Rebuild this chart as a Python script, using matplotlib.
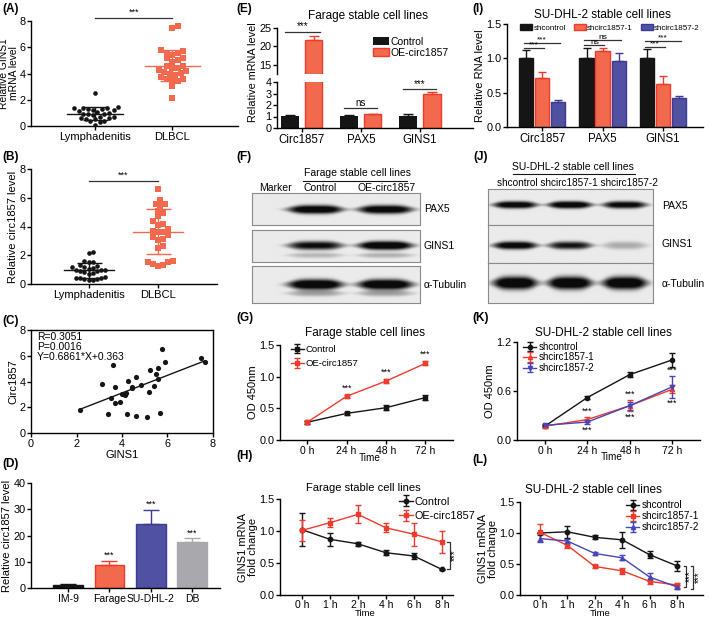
import numpy as np
import matplotlib.pyplot as plt
from matplotlib.lines import Line2D

plt.rcParams['font.family'] = ['Liberation Sans', 'DejaVu Sans']
plt.rcParams['font.size'] = 8
plt.rcParams['axes.linewidth'] = 1.0
plt.rcParams['xtick.major.size'] = 3
plt.rcParams['ytick.major.size'] = 3
plt.rcParams['xtick.major.pad'] = 1.2
plt.rcParams['ytick.major.pad'] = 1
plt.rcParams['xtick.labelsize'] = 7.8
plt.rcParams['ytick.labelsize'] = 7.8
plt.rcParams['legend.frameon'] = False

BLACK = '#151515'
RED = '#ee3b2b'
CORAL = '#f3694e'
BLUE = '#4646b8'
NAVY = '#5151a2'
GREY = '#a9a9ad'

# ---- data ----
ab_groups = ['Lymphadenitis', 'DLBCL']
a_lymph = [2.5, 1.45, 1.4, 1.35, 1.35, 1.3, 1.3, 1.25, 1.2, 1.15, 1.1, 1.0, 0.95,
           0.9, 0.9, 0.85, 0.7, 0.65, 0.6, 0.6, 0.55, 0.5, 0.4, 0.35, 0.3, 0.1]
a_dlbcl = [7.6, 7.5, 5.8, 5.7, 5.6, 5.55, 5.4, 5.2, 5.15, 5.0, 4.85, 4.6, 4.55, 4.45,
           4.4, 4.25, 4.2, 4.15, 4.05, 3.95, 3.9, 3.7, 3.6, 3.55, 3.5, 3.4, 3.05, 2.15]
b_lymph = [2.2, 2.15, 1.6, 1.55, 1.5, 1.3, 1.25, 1.2, 1.15, 1.1, 1.05, 1.0, 1.0, 0.95,
           0.9, 0.9, 0.85, 0.75, 0.7, 0.5, 0.45, 0.4, 0.4, 0.35, 0.35, 0.3, 0.3]
b_dlbcl = [6.6, 5.85, 5.6, 5.6, 5.45, 5.1, 4.95, 4.7, 4.4, 4.2, 4.1, 3.8, 3.7, 3.65,
           3.6, 3.4, 3.25, 3.15, 3.05, 2.65, 2.5, 1.6, 1.55, 1.5, 1.4, 1.3, 1.25]
c_gins1 = [2.15, 3.1, 3.5, 3.39, 3.61, 3.7, 3.68, 3.9, 3.99, 4.12, 4.17, 4.27, 4.24, 4.42,
           4.46, 4.6, 4.6, 4.85, 5.1, 5.19, 5.22, 5.39, 5.51, 5.57, 5.6, 5.69, 5.77, 5.9,
           7.48, 7.63]
c_circ = [1.77, 3.84, 2.68, 1.5, 5.32, 3.58, 2.36, 2.42, 3.06, 2.99, 3.12, 4.05, 1.5, 3.5,
          3.58, 4.36, 1.32, 3.71, 1.25, 3.19, 4.88, 3.64, 4.62, 4.16, 5.01, 1.58, 6.52, 5.53,
          5.79, 5.51]
c_slope, c_icpt = 0.6861, 0.363

d_lines = ['IM-9', 'Farage', 'SU-DHL-2', 'DB']
d_mean = [1.2, 8.7, 24.2, 17.4]
d_err = [0.3, 1.6, 5.6, 1.6]

genes = ['Circ1857', 'PAX5', 'GINS1']
e_ctrl = [1.05, 1.05, 1.05]
e_ctrl_err = [0.1, 0.1, 0.15]
e_oe = [21.7, 1.2, 3.0]
e_oe_err = [1.1, 0.05, 0.1]

i_ctrl = [1.0, 1.0, 1.0]
i_ctrl_err = [0.12, 0.15, 0.13]
i_sh1 = [0.71, 1.10, 0.62]
i_sh1_err = [0.09, 0.05, 0.12]
i_sh2 = [0.37, 0.96, 0.42]
i_sh2_err = [0.03, 0.12, 0.03]

gk_times = ['0 h', '24 h', '48 h', '72 h']
g_ctrl = [0.28, 0.42, 0.51, 0.67]
g_ctrl_err = [0.02, 0.02, 0.04, 0.04]
g_oe = [0.28, 0.69, 0.93, 1.21]
g_oe_err = [0.02, 0.02, 0.03, 0.03]
k_ctrl = [0.17, 0.52, 0.80, 0.98]
k_ctrl_err = [0.01, 0.02, 0.03, 0.08]
k_sh1 = [0.17, 0.25, 0.42, 0.62]
k_sh1_err = [0.02, 0.03, 0.07, 0.05]
k_sh2 = [0.18, 0.22, 0.42, 0.65]
k_sh2_err = [0.01, 0.03, 0.05, 0.13]

hl_times = ['0 h', '1 h', '2 h', '4 h', '6 h', '8 h']
h_ctrl = [1.02, 0.87, 0.80, 0.66, 0.61, 0.40]
h_ctrl_err = [0.26, 0.10, 0.03, 0.04, 0.04, 0.01]
h_oe = [1.01, 1.13, 1.26, 1.05, 0.95, 0.83]
h_oe_err = [0.16, 0.07, 0.14, 0.07, 0.18, 0.17]
l_ctrl = [1.0, 1.02, 0.93, 0.89, 0.65, 0.47]
l_ctrl_err = [0.0, 0.10, 0.03, 0.13, 0.06, 0.08]
l_sh1 = [1.01, 0.80, 0.46, 0.39, 0.22, 0.16]
l_sh1_err = [0.14, 0.04, 0.02, 0.05, 0.04, 0.04]
l_sh2 = [0.91, 0.87, 0.67, 0.60, 0.29, 0.13]
l_sh2_err = [0.05, 0.04, 0.03, 0.04, 0.06, 0.03]

# western blot band strengths (0 = no band)
f_lanes = ['Marker', 'Control', 'OE-circ1857']
f_pax5 = [0, 0.95, 0.92]
f_gins1 = [0, 0.8, 1.0]
f_gins1_low = [0, 0.18, 0.2]
f_tub = [0, 1.0, 1.0]
f_tub_low = [0, 0.25, 0.25]
j_lanes = ['shcontrol', 'shcirc1857-1', 'shcirc1857-2']
j_pax5 = [0.9, 0.95, 0.85]
j_gins1 = [0.9, 0.75, 0.22]
j_tub = [1.0, 1.0, 1.0]

# ---- layout helpers ----
W, H = 709, 618
fig = plt.figure(figsize=(W / 100, H / 100), dpi=100)


def axes_px(l, t, r, b):
    return fig.add_axes([l / W, 1 - b / H, (r - l) / W, (b - t) / H])


def ftext(x, y, s, **kw):
    kw.setdefault('ha', 'center')
    kw.setdefault('va', 'center')
    return fig.text(x / W, 1 - y / H, s, **kw)


def fline(x0, x1, y, **kw):
    fig.add_artist(Line2D([x0 / W, x1 / W], [1 - y / H, 1 - y / H], color=BLACK, lw=0.8, **kw))


def prism(ax):
    ax.spines[['top', 'right']].set_visible(False)
    ax.tick_params(direction='out', width=1)


def ylab(ax, s, fs=8, pad=1.0):
    ax.set_ylabel(s, fontsize=fs, labelpad=pad, linespacing=0.95)


def swarm(values, xscale, yscale, d):
    # deterministic beeswarm offsets (pixels -> data units)
    v = np.asarray(values)
    out = np.zeros(len(v))
    placed = []
    cands = [0.0] + [s * j * d * 0.5 for j in range(1, 60) for s in (1, -1)]
    for i in np.argsort(v):
        y = v[i] * yscale
        for c in cands:
            if all((c - px) ** 2 + (y - py) ** 2 >= d * d for px, py in placed):
                break
        placed.append((c, y))
        out[i] = c / xscale
    return out


def sig(ax, x0, x1, y, s, dy, fs=7):
    ax.plot([x0, x1], [y, y], color='#333333', lw=0.9, clip_on=False)
    ax.text((x0 + x1) / 2, y + dy, s, ha='center', va='bottom', fontsize=fs, clip_on=False)


def bracket(ax, x, y0, y1, s, dx):
    w = 0.08
    ax.plot([x - w, x, x, x - w], [y0, y0, y1, y1], color='#333333', lw=0.9, clip_on=False)
    ax.text(x + dx, (y0 + y1) / 2, s, rotation=90, ha='center', va='center', fontsize=7,
            clip_on=False)


# ---- panel labels ----
for lab, x, y in [('(A)', 2, 9), ('(B)', 2, 157), ('(C)', 2, 321), ('(D)', 2, 464),
                  ('(E)', 236, 9), ('(F)', 236, 157), ('(G)', 236, 318), ('(H)', 236, 456),
                  ('(I)', 472, 9), ('(J)', 473, 157), ('(K)', 472, 318), ('(L)', 472, 460)]:
    ftext(x, y, lab, ha='left', fontsize=8.5, fontweight='bold')


# ---- A / B dot plots ----
def dotplot(box, lymph, dlbcl, xpos, yscale, sig_y):
    ax = axes_px(*box)
    prism(ax)
    for i, (vals, mk, col, sz, d) in enumerate([(lymph, 'o', BLACK, 11, 4.6),
                                                (dlbcl, 's', CORAL, 14, 5.4)]):
        v = np.array(vals)
        ax.scatter(i + swarm(v, xpos, yscale, d), v, marker=mk, s=sz, color=col, lw=0,
                   zorder=3)
        m, sd = v.mean(), v.std(ddof=1)
        ax.plot([i - 0.36, i + 0.36], [m, m], color=col, lw=1, zorder=4)
        ax.errorbar(i, m, yerr=sd, color=col, capsize=9, lw=1, capthick=1, zorder=4)
    ax.set_xlim(-0.83, 1.85)
    ax.set_ylim(0, 8)
    ax.set_yticks([0, 2, 4, 6, 8])
    ax.set_xticks([0, 1], ab_groups, fontsize=8)
    sig(ax, 0, 1, sig_y, '***', 0.05, fs=6.5)
    return ax


ax = dotplot((31, 21, 238, 126), a_lymph, a_dlbcl, 76, 13.1, 8.25)
ylab(ax, 'Relative GINS1\nmRNA level', fs=7.4, pad=0.3)
ax = dotplot((31, 169, 217, 284), b_lymph, b_dlbcl, 76, 14.4, 7.2)
ylab(ax, 'Relative circ1857 level')

# ---- C correlation ----
ax = axes_px(31, 330, 213, 433)
ax.tick_params(direction='out', width=1)
ax.scatter(c_gins1, c_circ, s=14, color=BLACK, lw=0, zorder=3)
xl = np.array([min(c_gins1), max(c_gins1)])
ax.plot(xl, c_slope * xl + c_icpt, color=BLACK, lw=1)
ax.set_xlim(0, 8)
ax.set_ylim(0, 8)
ax.set_xticks([0, 2, 4, 6, 8])
ax.set_yticks([0, 2, 4, 6, 8])
ax.text(0.25, 7.85, 'R=0.3051\nP=0.0016\nY=0.6861*X+0.363', va='top', fontsize=7.5,
        linespacing=1.0)
ylab(ax, 'Circ1857')
ax.set_xlabel('GINS1', fontsize=8, labelpad=0.5)

# ---- D bars ----
ax = axes_px(31, 483, 220, 588)
prism(ax)
d_fill = [BLACK, CORAL, NAVY, GREY]
d_edge = [BLACK, RED, '#3b3b94', GREY]
xd = np.arange(len(d_lines))
ax.bar(xd, d_mean, width=0.72, color=d_fill, edgecolor=d_edge, lw=1)
for i in xd:
    ax.errorbar(i, d_mean[i], yerr=[[0], [d_err[i]]], color=d_edge[i], capsize=6, lw=1,
                capthick=1)
    if i > 0:
        ax.text(i, d_mean[i] + d_err[i] + 0.3, '***', ha='center', va='bottom', fontsize=6.5)
ax.set_xlim(-0.9, 3.68)
ax.set_ylim(0, 40)
ax.set_yticks([0, 10, 20, 30, 40])
ax.set_xticks(xd, d_lines, fontsize=7.5)
ylab(ax, 'Relative circ1857 level')

# ---- E broken-axis bars ----
eu = axes_px(277, 28, 473, 74)
el = axes_px(277, 82, 473, 128)
xe = np.arange(len(genes))
for a in (eu, el):
    prism(a)
    a.bar(xe - 0.2, e_ctrl, 0.3, color=BLACK, label='Control')
    a.bar(xe + 0.2, e_oe, 0.3, color=CORAL, edgecolor=RED, lw=1, label='OE-circ1857')
    a.errorbar(xe - 0.2, e_ctrl, yerr=[[0] * 3, e_ctrl_err], fmt='none', ecolor=BLACK,
               capsize=3.5, lw=1, capthick=1)
    a.errorbar(xe + 0.2, e_oe, yerr=[[0] * 3, e_oe_err], fmt='none', ecolor=RED,
               capsize=3.5, lw=1, capthick=1)
    a.set_xlim(-0.42, 2.9)
eu.set_ylim(12.5, 25)
eu.set_yticks([15, 20, 25])
eu.spines['bottom'].set_visible(False)
eu.set_xticks([])
el.set_ylim(0, 4)
el.set_yticks([0, 1, 2, 3, 4])
el.set_xticks(xe, genes, fontsize=8.3)
eu.legend(loc='upper left', bbox_to_anchor=(0.47, 0.9), fontsize=7.5, handlelength=1.5,
          handleheight=0.8, labelspacing=0.1, handletextpad=0.2, borderaxespad=0)
sig(eu, -0.28, 0.3, 23.9, '***', 0.2)
sig(el, 0.72, 1.28, 1.72, 'ns', 0.05)
sig(el, 1.72, 2.28, 3.38, '***', 0.02)
ftext(368, 16, 'Farage stable cell lines', fontsize=8.5)
ftext(253, 72, 'Relative mRNA level', rotation=90, fontsize=7.8)

# ---- I bars ----
ax = axes_px(507, 24, 703, 127)
prism(ax)
xi = np.arange(len(genes))
bw = 0.235
for off, vals, errs, fc, ec, lab in [(-0.265, i_ctrl, i_ctrl_err, BLACK, BLACK, 'shcontrol'),
                                     (0, i_sh1, i_sh1_err, CORAL, RED, 'shcirc1857-1'),
                                     (0.265, i_sh2, i_sh2_err, NAVY, '#3b3b94', 'shcirc1857-2')]:
    ax.bar(xi + off, vals, bw, color=fc, edgecolor=ec, lw=1, label=lab)
    ax.errorbar(xi + off, vals, yerr=[[0] * 3, errs], fmt='none', ecolor=ec, capsize=3,
                lw=1, capthick=1)
ax.set_xlim(-0.58, 2.66)
ax.set_ylim(0, 1.5)
ax.set_yticks([0, 0.5, 1.0, 1.5])
ax.yaxis.set_major_formatter('{x:.1f}')
ax.set_xticks(xi, genes, fontsize=8.3)
ax.legend(loc='upper left', bbox_to_anchor=(0.05, 1.03), ncol=3, fontsize=5.8,
          handlelength=1.5, handleheight=0.7, handletextpad=0.15, columnspacing=1.0,
          borderaxespad=0)
for g, (hi, lo, s) in enumerate([(1.23, 1.15, '***'), (1.26, 1.19, 'ns'), (1.25, 1.17, '***')]):
    sig(ax, g - 0.3, g + 0.3, hi, s, -0.01, fs=6)
    sig(ax, g - 0.3, g + 0.03, lo, s, -0.01, fs=6)
ftext(602, 15, 'SU-DHL-2 stable cell lines', fontsize=8.5)
ylab(ax, 'Relative RNA level')


# ---- F / J western blots ----
def blot(box, centers, width, levels, band_y, thick, low=None, low_y=0.78):
    ax = axes_px(*box)
    xx = np.linspace(0, 1, 300)[None, :]
    yy = np.linspace(0, 1, 90)[:, None]
    dark = np.zeros((90, 300))
    sets = [(levels, band_y, thick)]
    if low is not None:
        sets.append((low, low_y, thick * 0.6))
    for levs, by, th in sets:
        for c, lev in zip(centers, levs):
            hx = np.exp(-np.abs((xx - c) / (width / 2)) ** 4)
            sg = th * (0.35 + 0.65 * hx)
            dark += lev * hx * np.exp(-np.abs((yy - by) / sg) ** 2.5)
    img = 0.92 - 0.88 * np.clip(dark * 1.3, 0, 1)
    ax.imshow(img, cmap='gray', vmin=0, vmax=1, aspect='auto', extent=(0, 1, 1, 0),
              interpolation='bilinear')
    for s in ax.spines.values():
        s.set_color('#8a8a8a')
        s.set_linewidth(0.8)
    ax.set_xticks([])
    ax.set_yticks([])
    return ax


f_cx = [0.14, 0.378, 0.795]
blot((252, 193, 420, 225), f_cx, 0.33, f_pax5, 0.53, 0.13)
blot((252, 230, 420, 262), f_cx, 0.33, f_gins1, 0.5, 0.13, f_gins1_low, 0.8)
blot((252, 266, 420, 303), f_cx, 0.33, f_tub, 0.5, 0.14, f_tub_low, 0.74)
for nm, y in [('PAX5', 209), ('GINS1', 246), ('\u03b1-Tubulin', 285)]:
    ftext(424, y, nm, ha='left', fontsize=7.5)
ftext(357, 173, 'Farage stable cell lines', fontsize=7.5)
fline(303, 407, 181)
for nm, x in zip(f_lanes, [275, 320, 387]):
    ftext(x, 188, nm, fontsize=7.5)

j_cx = [0.164, 0.497, 0.83]
blot((488, 189, 653, 225), j_cx, 0.27, j_pax5, 0.44, 0.1)
blot((488, 225, 653, 263), j_cx, 0.27, j_gins1, 0.55, 0.1)
blot((488, 263, 653, 303), j_cx, 0.27, j_tub, 0.5, 0.16)
for nm, y in [('PAX5', 206), ('GINS1', 244), ('\u03b1-Tubulin', 284)]:
    ftext(662, y, nm, ha='left', fontsize=7.5)
ftext(573, 167, 'SU-DHL-2 stable cell lines', fontsize=7.5)
fline(513, 635, 174)
ftext(577, 183, ' '.join(j_lanes), fontsize=7.2)


# ---- G / K growth curves, H / L decay curves ----
def curves(box, times, series, xlim, ylim, yticks, fmt='{x:.1f}', xpad=1.2):
    ax = axes_px(*box)
    prism(ax)
    t = np.arange(len(times))
    for vals, errs, col, mk, ms, lab in series:
        ax.errorbar(t, vals, yerr=errs, color=col, marker=mk, ms=ms, capsize=2.5, lw=1,
                    capthick=1, label=lab)
    ax.set_xlim(*xlim)
    ax.set_ylim(*ylim)
    ax.set_yticks(yticks)
    ax.yaxis.set_major_formatter(fmt)
    ax.set_xticks(t, times, fontsize=7.5)
    ax.tick_params(axis='x', pad=xpad)
    return ax


ax = curves((280, 345, 453, 440), gk_times,
            [(g_ctrl, g_ctrl_err, BLACK, 's', 3.5, 'Control'),
             (g_oe, g_oe_err, RED, 's', 2.8, 'OE-circ1857')],
            (-0.69, 3.7), (0, 1.5), [0, 0.5, 1.0, 1.5])
for i in range(1, 4):
    ax.text(i, g_oe[i] + g_oe_err[i] + 0.04, '***', ha='center', va='bottom', fontsize=6.5)
ax.legend(loc='upper left', bbox_to_anchor=(0.04, 1.04), fontsize=6.8, handlelength=1.4,
          labelspacing=0.55, handletextpad=0.2, borderaxespad=0)
ftext(365, 333, 'Farage stable cell lines', fontsize=8.5)
ylab(ax, 'OD 450nm')
ftext(370, 458, 'Time', fontsize=7.2)

ax = curves((517, 342, 700, 440), gk_times,
            [(k_ctrl, k_ctrl_err, BLACK, 'o', 3, 'shcontrol'),
             (k_sh1, k_sh1_err, RED, '^', 3, 'shcirc1857-1'),
             (k_sh2, k_sh2_err, BLUE, 'v', 3, 'shcirc1857-2')],
            (-0.66, 3.66), (0, 1.2), [0, 0.6, 1.2])
for i in range(1, 4):
    top = max(k_sh1[i] + k_sh1_err[i], k_sh2[i] + k_sh2_err[i])
    bot = min(k_sh1[i] - k_sh1_err[i], k_sh2[i] - k_sh2_err[i])
    ax.text(i, top + 0.02, '***', ha='center', va='bottom', fontsize=6.5)
    ax.text(i, bot - 0.02, '***', ha='center', va='top', fontsize=6.5)
ax.legend(loc='upper left', bbox_to_anchor=(0.01, 1.04), fontsize=7, handlelength=1.4,
          labelspacing=0.05, handletextpad=0.2, borderaxespad=0)
ftext(603, 333, 'SU-DHL-2 stable cell lines', fontsize=8.5)
ylab(ax, 'OD 450nm')
ftext(612, 457, 'Time', fontsize=7.2)

ax = curves((280, 499, 453, 595), hl_times,
            [(h_ctrl, h_ctrl_err, BLACK, 'o', 3.2, 'Control'),
             (h_oe, h_oe_err, RED, 's', 3.2, 'OE-circ1857')],
            (-0.79, 5.4), (0, 1.5), [0, 0.5, 1.0, 1.5], xpad=0.5)
bracket(ax, 5.28, h_ctrl[-1], h_oe[-1], '***', 0.2)
ax.legend(loc='upper left', bbox_to_anchor=(0.66, 1.07), fontsize=7.8, handlelength=1.3,
          labelspacing=0.4, handletextpad=0.2, borderaxespad=0)
ftext(363, 488, 'Farage stable cell lines', fontsize=8)
ylab(ax, 'GINS1 mRNA\nfold change')
ftext(365, 613, 'Time', fontsize=6.8)

ax = curves((520, 502, 703, 595), hl_times,
            [(l_ctrl, l_ctrl_err, BLACK, 'o', 3.2, 'shcontrol'),
             (l_sh1, l_sh1_err, RED, 's', 3, 'shcirc1857-1'),
             (l_sh2, l_sh2_err, BLUE, '^', 3, 'shcirc1857-2')],
            (-0.73, 5.95), (0, 1.5), [0, 0.5, 1.0, 1.5], xpad=0.5)
bracket(ax, 5.32, l_sh1[-1] - 0.03, l_ctrl[-1], '***', 0.17)
bracket(ax, 5.6, l_sh2[-1] - 0.03, l_ctrl[-1], '***', 0.2)
ax.legend(loc='upper left', bbox_to_anchor=(0.56, 1.06), fontsize=7.2, handlelength=1.3,
          labelspacing=0.1, handletextpad=0.2, borderaxespad=0)
ftext(593, 490, 'SU-DHL-2 stable cell lines', fontsize=8.5)
ylab(ax, 'GINS1 mRNA\nfold change')
ftext(600, 613, 'Time', fontsize=6.8)

fig.savefig('out.png', dpi=100)
